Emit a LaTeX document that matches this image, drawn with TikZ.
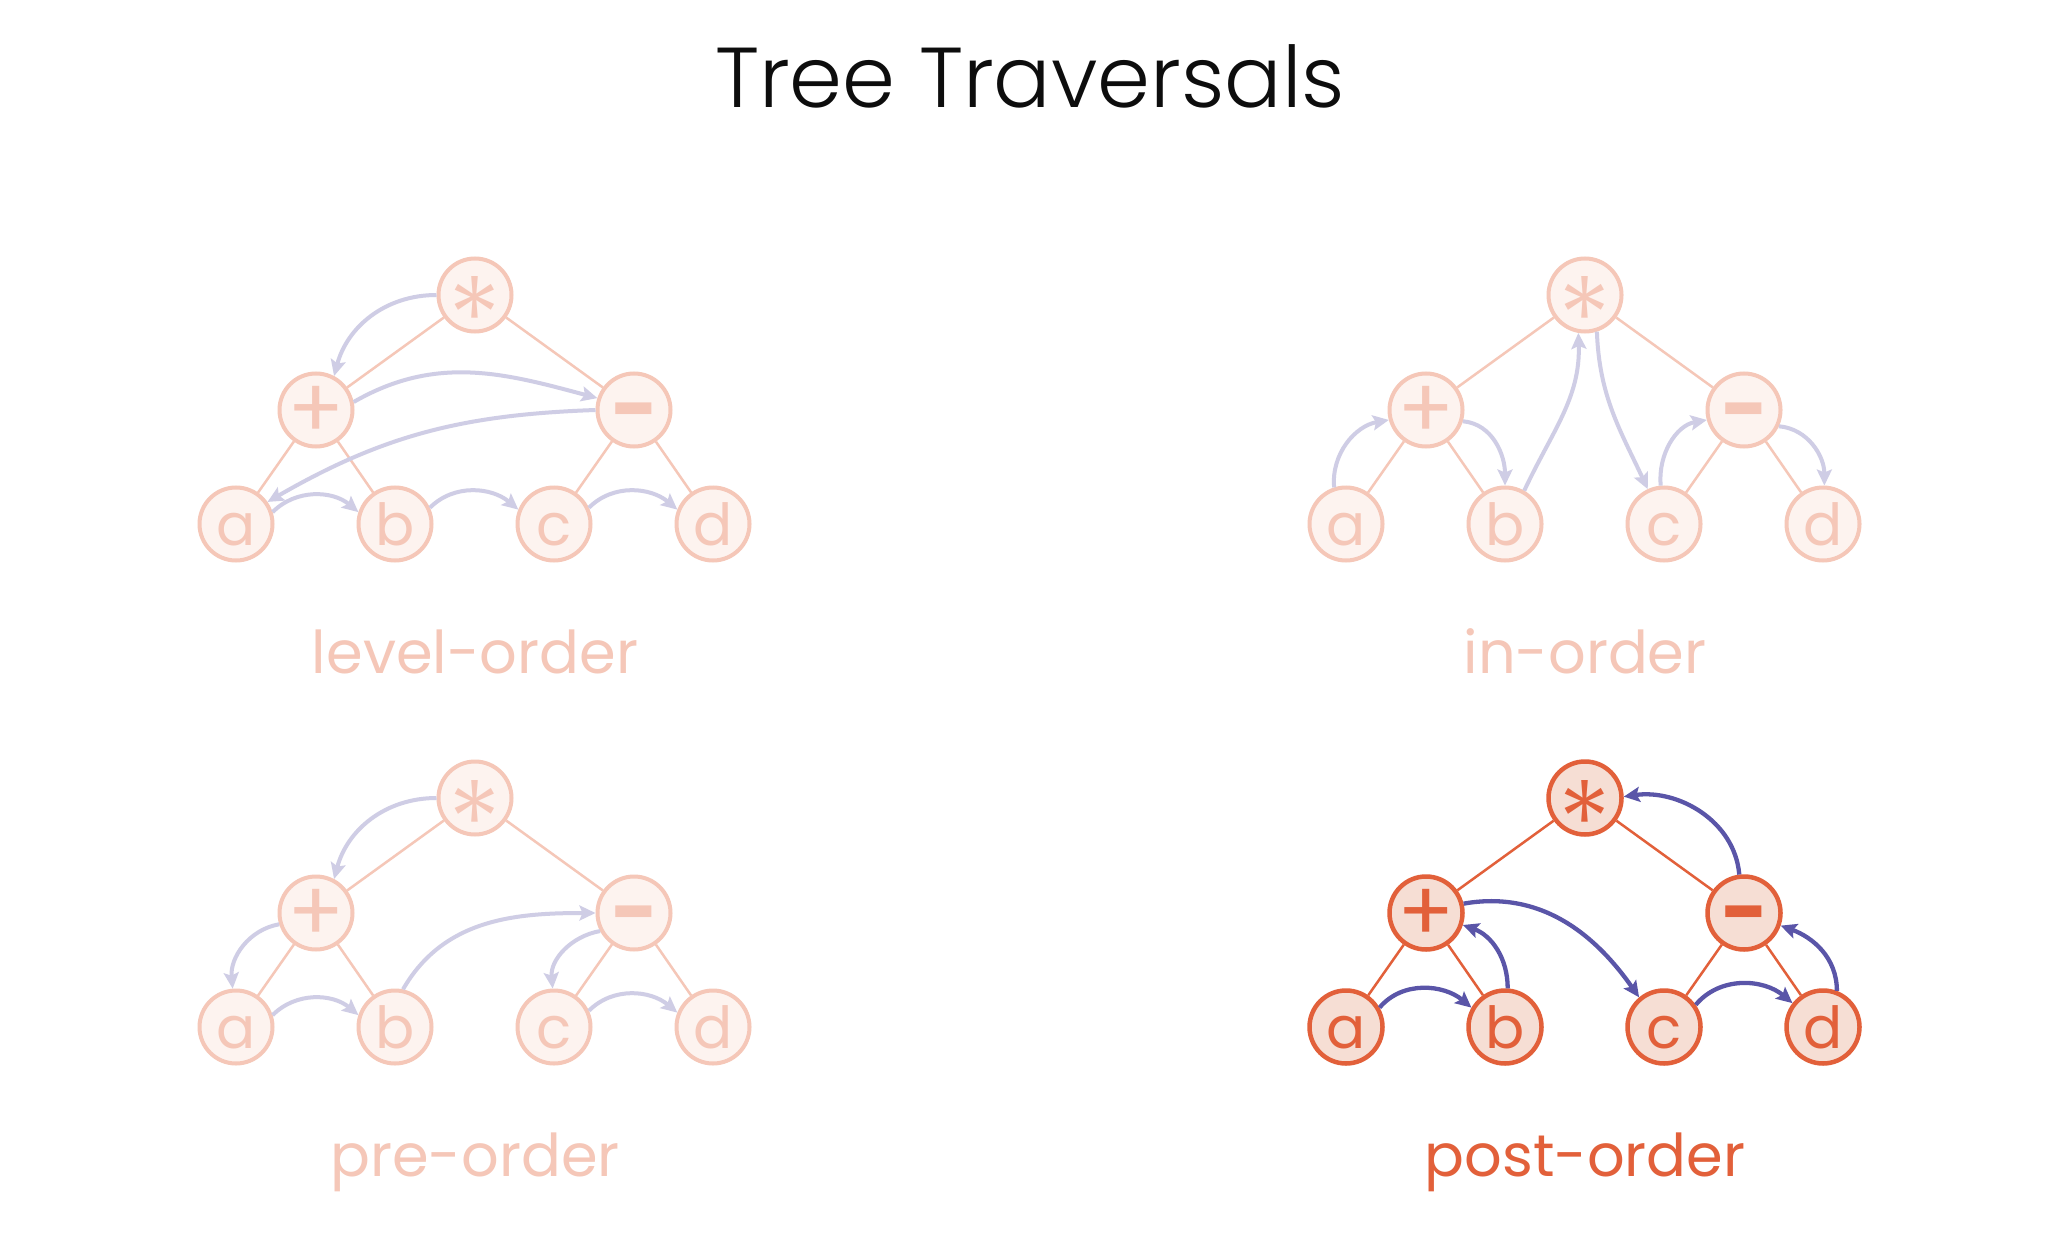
\documentclass[tikz,border=0pt]{standalone}
\usepackage{fontspec}
\setmainfont{Poppins}
\newfontfamily\titlefont{Poppins Light}
\usetikzlibrary{arrows.meta}
\definecolor{orD}{HTML}{E2603A}
\definecolor{orDfill}{HTML}{F6DED4}
\definecolor{puD}{HTML}{5A55A8}
\definecolor{orL}{HTML}{F5C7B8}
\definecolor{orLfill}{HTML}{FDF3EF}
\definecolor{puL}{HTML}{CFCDE5}
\tikzset{
  tnode/.style={circle, minimum size=73pt, inner sep=0pt, line width=4pt,
    font=\fontsize{58}{58}\selectfont, text height=42pt, text depth=0pt},
  nodeL/.style={tnode, draw=orL, fill=orLfill, text=orL},
  nodeD/.style={tnode, draw=orD, fill=orDfill, text=orD, line width=4.5pt},
  edgeL/.style={draw=orL, line width=2.5pt},
  edgeD/.style={draw=orD, line width=2.5pt},
  labL/.style={text=orL},
  labD/.style={text=orD},
  arrL/.style={draw=puL, line width=4pt, -{Stealth[length=16pt,width=15pt,inset=3pt]}},
  arrD/.style={draw=puD, line width=4.3pt, -{Stealth[length=16pt,width=15pt,inset=3pt]}},
  lab/.style={anchor=base, font=\fontsize{59}{59}\selectfont}
}
\newcommand\astg{\raisebox{-43pt}{\titlefont\fontsize{112}{112}\selectfont *}}
\newcommand\plusg{\raisebox{-7pt}{\fontsize{84}{84}\selectfont +}}
\newcommand\minusg{\raisebox{-6pt}{\fontsize{82}{82}\selectfont\bfseries −}}
\newcommand\maketree[5]{%
  \begin{scope}[shift={(#2,#3)}]
    \node[node#4] (#1r) at (0,0) {\astg};
    \node[node#4] (#1p) at (-159,-115) {\plusg};
    \node[node#4] (#1m) at (159,-115) {\minusg};
    \node[node#4] (#1a) at (-239,-229) {a};
    \node[node#4] (#1b) at (-80,-229) {b};
    \node[node#4] (#1c) at (79,-229) {c};
    \node[node#4] (#1d) at (238,-229) {d};
    \draw[edge#4] (#1r) -- (#1p);
    \draw[edge#4] (#1r) -- (#1m);
    \draw[edge#4] (#1p) -- (#1a);
    \draw[edge#4] (#1p) -- (#1b);
    \draw[edge#4] (#1m) -- (#1c);
    \draw[edge#4] (#1m) -- (#1d);
    \node[lab, lab#4] (#1lab) at (0,-378) {#5};
  \end{scope}}
\begin{document}
\begin{tikzpicture}[x=1pt, y=1pt]
  \fill[white] (0,0) rectangle (2068,-1246);
  \useasboundingbox (0,0) rectangle (2068,-1246);
  \node[anchor=base, font=\titlefont\fontsize{85}{85}\selectfont, text=black!95] (title) at (1030,-108) {Tree Traversals};

  \maketree{L}{475}{-295}{L}{level-order}
  \maketree{I}{1585}{-295}{L}{in-order}
  \maketree{P}{475}{-798}{L}{pre-order}
  \maketree{O}{1585}{-798}{D}{post-order}

  % level-order
  \draw[arrL] (Lr.180) to[out=180,in=75] (Lp.62);
  \draw[arrL] (Lp.12) to[out=30,in=165] (Lm.162);
  \draw[arrL] (Lm.180) to[out=182,in=30] (La.35);
  \draw[arrL] (La.18) to[out=45,in=140] (Lb.162);
  \draw[arrL] (Lb.25) to[out=45,in=140] (Lc.158);
  \draw[arrL] (Lc.25) to[out=45,in=140] (Ld.158);

  % in-order
  \draw[arrL] (Ia.108) to[out=95,in=190] (Ip.195);
  \draw[arrL] (Ip.-17) to[out=-5,in=90] (Ib.90);
  \draw[arrL] (Ib.60) to[out=65,in=-88] (Ir.-100);
  \draw[arrL] (Ir.-72) to[out=-88,in=115] (Ic.115);
  \draw[arrL] (Ic.95) to[out=95,in=190] (Im.195);
  \draw[arrL] (Im.-25) to[out=-5,in=90] (Id.88);

  % pre-order
  \draw[arrL] (Pr.180) to[out=180,in=75] (Pp.62);
  \draw[arrL] (Pp.197) to[out=190,in=95] (Pa.95);
  \draw[arrL] (Pa.18) to[out=45,in=140] (Pb.162);
  \draw[arrL] (Pb.78) to[out=60,in=180] (Pm.180);
  \draw[arrL] (Pm.208) to[out=190,in=95] (Pc.92);
  \draw[arrL] (Pc.25) to[out=45,in=140] (Pd.158);

  % post-order
  \draw[arrD] (Oa.30) to[out=50,in=140] (Ob.150);
  \draw[arrD] (Ob.86) to[out=90,in=-20] (Op.-18);
  \draw[arrD] (Op.14) to[out=10,in=125] (Oc.130);
  \draw[arrD] (Oc.35) to[out=50,in=140] (Od.142);
  \draw[arrD] (Od.69) to[out=90,in=-20] (Om.-19);
  \draw[arrD] (Om.97) to[out=95,in=8] (Or.2);
\end{tikzpicture}
\end{document}
